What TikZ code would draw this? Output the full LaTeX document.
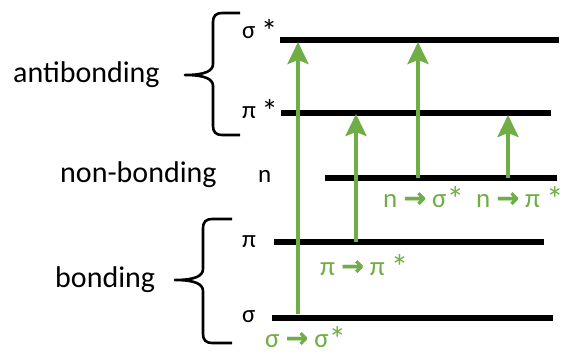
\documentclass[tikz,border=0pt]{standalone}
\usepackage{fontspec}
\usepackage{graphicx}
\setmainfont{Carlito}
\newfontfamily\arrowfont{DejaVu Sans}[FakeBold=1.5]
\usetikzlibrary{arrows.meta}
\definecolor{exgreen}{HTML}{70AD47}
\tikzset{
  level/.style={line width=5.5pt, black},
  excite/.style={line width=4pt, exgreen, -{Stealth[length=22pt, width=21pt, inset=4pt]}},
  bracepath/.style={line width=2.6pt, black, line join=round},
  biglabel/.style={inner sep=0pt, anchor=base west, font=\fontsize{30}{36}\selectfont},
  lvlabel/.style={inner sep=0pt, anchor=base west, font=\fontsize{25}{30}\selectfont},
  trlabel/.style={inner sep=0pt, anchor=base west, text depth=0pt, text=exgreen, font=\fontsize{27}{32}\selectfont}
}
\newcommand{\tra}{{\arrowfont\bfseries →}}
\newcommand{\bstar}{\raisebox{-0.16em}[\height][0pt]{\scalebox{1.3}{*}}}
\begin{document}
\begin{tikzpicture}[x=1pt,y=-1pt]
\useasboundingbox (0,0) rectangle (565,357);
% level end points
\coordinate (sst-l) at (280,40);  \coordinate (sst-r) at (559,40);
\coordinate (pst-l) at (281,113); \coordinate (pst-r) at (551,113);
\coordinate (n-l)   at (325,178); \coordinate (n-r)   at (557,178);
\coordinate (pi-l)  at (274,242); \coordinate (pi-r)  at (544,242);
\coordinate (sg-l)  at (272,318); \coordinate (sg-r)  at (553,318);
\draw[level] (sst-l) -- (sst-r);
\draw[level] (pst-l) -- (pst-r);
\draw[level] (n-l) -- (n-r);
\draw[level] (pi-l) -- (pi-r);
\draw[level] (sg-l) -- (sg-r);
% transitions
\coordinate (t1s) at (298,314); \coordinate (t1e) at (298,42);
\coordinate (t2s) at (356,242); \coordinate (t2e) at (356,114);
\coordinate (t3s) at (418,178); \coordinate (t3e) at (418,42);
\coordinate (t4s) at (508,178); \coordinate (t4e) at (508,115);
\draw[excite] (t1s) -- (t1e);
\draw[excite] (t2s) -- (t2e);
\draw[excite] (t3s) -- (t3e);
\draw[excite] (t4s) -- (t4e);
% level labels
\node[lvlabel] (lsst) at (242,38) {σ \bstar};
\node[lvlabel] (lpst) at (242,118) {π \bstar};
\node[lvlabel] (ln)   at (258,182) {n};
\node[lvlabel] (lpi)  at (242,247) {π};
\node[lvlabel] (lsg)  at (242,322) {σ};
% group labels
\node[biglabel] (anti) at (13,82) {antibonding};
\node[biglabel] (nonb) at (60,182) {non-bonding};
\node[biglabel] (bond) at (55,287) {bonding};
% braces
\draw[bracepath] (240,13) -- (222,13) .. controls (216,13) and (213,16) .. (213,22)
  -- (213,64) .. controls (213,71) and (205,75) .. (185,75)
  .. controls (205,75) and (213,79) .. (213,86)
  -- (213,126) .. controls (213,132) and (216,135) .. (222,135) -- (240,135);
\draw[bracepath] (232,219) -- (212,219) .. controls (206,219) and (203,222) .. (203,228)
  -- (203,269) .. controls (203,276) and (195,280) .. (175,280)
  .. controls (195,280) and (203,284) .. (203,291)
  -- (203,334) .. controls (203,340) and (206,343) .. (212,343) -- (232,343);
% transition labels
\node[trlabel] (l1) at (265,347) {σ \tra{} σ\bstar};
\node[trlabel] (l2) at (320,275) {π \tra{} π \bstar};
\node[trlabel] (l3) at (383,207) {n \tra{} σ\bstar};
\node[trlabel] (l4) at (476,207) {n \tra{} π \bstar};
\end{tikzpicture}
\end{document}
